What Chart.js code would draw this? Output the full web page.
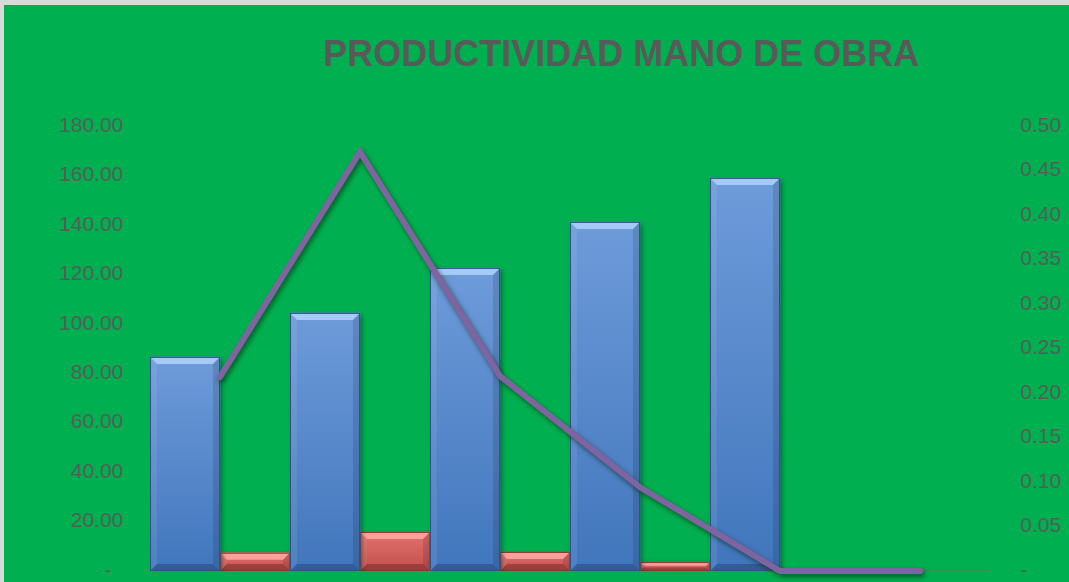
<!DOCTYPE html>
<html>
<head>
<meta charset="utf-8">
<script src="https://cdn.jsdelivr.net/npm/chart.js@4/dist/chart.umd.min.js"></script>
<style>
  html, body { margin: 0; padding: 0; background: #00B050; }
  canvas { display: block; }
</style>
</head>
<body>
<canvas id="c" width="1069" height="582"></canvas>
<script>
// ---- data ----
const categories = ['1', '2', '3', '4', '5', '6'];
const unidadesProducidas = [86.6, 104.4, 122.6, 141.2, 159.0, 0];
const horasHombre = [7.4, 15.8, 7.7, 3.6, 0, 0];
const productividad = [0.218, 0.471, 0.219, 0.094, 0, 0];
const leftTicks = { min: 0, max: 180, step: 20 };
const rightTicks = { min: 0, max: 0.5, step: 0.05 };
const titleText = 'PRODUCTIVIDAD MANO DE OBRA';

const GREEN = '#00B050';
const TEXT = '#595959';

const barStyles = {
  1: { top: '#6E9BDA', bottom: '#4176BC', hi: 'rgba(175,210,250,0.85)', lo: 'rgba(30,60,110,0.45)', border: '#2F5284' },
  2: { top: '#E4706B', bottom: '#C0504D', hi: 'rgba(255,170,165,0.85)', lo: 'rgba(110,30,30,0.45)', border: '#8B3634' }
};

const bgPlugin = {
  id: 'bg',
  beforeDraw(chart) {
    const ctx = chart.ctx;
    ctx.save();
    ctx.fillStyle = GREEN;
    ctx.fillRect(0, 0, chart.width, chart.height);
    ctx.fillStyle = '#D9D9D9';
    ctx.fillRect(0, 0, chart.width, 5);
    ctx.fillRect(0, 0, 4, chart.height);
    ctx.restore();
  },
  afterDraw(chart) {
    const ctx = chart.ctx;
    ctx.save();
    ctx.font = 'bold 36px "Liberation Sans", Arial, sans-serif';
    ctx.fillStyle = TEXT;
    ctx.textAlign = 'center';
    ctx.textBaseline = 'alphabetic';
    ctx.fillText(titleText, 621, 66);
    ctx.restore();
  }
};

const fxPlugin = {
  id: 'fx',
  beforeDatasetDraw(chart, args) {
    const ctx = chart.ctx;
    ctx.save();
    const ds = chart.data.datasets[args.index];
    if (ds.type === 'line') {
      ctx.shadowColor = 'rgba(0,40,10,0.6)';
      ctx.shadowBlur = 5;
      ctx.shadowOffsetX = 2;
      ctx.shadowOffsetY = 3;
    } else {
      ctx.shadowColor = 'rgba(0,30,10,0.55)';
      ctx.shadowBlur = 5;
      ctx.shadowOffsetX = 2;
      ctx.shadowOffsetY = 2;
    }
  },
  afterDatasetDraw(chart, args) {
    const ctx = chart.ctx;
    ctx.restore();
    const ds = chart.data.datasets[args.index];
    if (ds.type === 'line') return;
    const st = barStyles[args.index];
    if (!st) return;
    ctx.save();
    args.meta.data.forEach(el => {
      const p = el.getProps(['x', 'y', 'base', 'width'], true);
      const h = p.base - p.y;
      if (h < 0.5) return;
      const l = p.x - p.width / 2, r = p.x + p.width / 2, t = p.y, b = p.base;
      const g = ctx.createLinearGradient(0, t, 0, b);
      g.addColorStop(0, st.top);
      g.addColorStop(1, st.bottom);
      ctx.fillStyle = g;
      ctx.fillRect(l, t, p.width, h);
      const bv = Math.min(7, h / 2.5);
      ctx.fillStyle = st.hi;
      ctx.beginPath();
      ctx.moveTo(l, t); ctx.lineTo(r, t); ctx.lineTo(r - bv, t + bv); ctx.lineTo(l + bv, t + bv); ctx.closePath();
      ctx.fill();
      ctx.fillStyle = st.lo;
      ctx.beginPath();
      ctx.moveTo(l, b); ctx.lineTo(r, b); ctx.lineTo(r - bv, b - bv); ctx.lineTo(l + bv, b - bv); ctx.closePath();
      ctx.fill();
      ctx.fillStyle = 'rgba(0,0,0,0.12)';
      ctx.beginPath();
      ctx.moveTo(r, t); ctx.lineTo(r, b); ctx.lineTo(r - bv, b - bv); ctx.lineTo(r - bv, t + bv); ctx.closePath();
      ctx.fill();
      ctx.fillStyle = 'rgba(255,255,255,0.08)';
      ctx.beginPath();
      ctx.moveTo(l, t); ctx.lineTo(l, b); ctx.lineTo(l + bv, b - bv); ctx.lineTo(l + bv, t + bv); ctx.closePath();
      ctx.fill();
      ctx.strokeStyle = st.border;
      ctx.lineWidth = 1;
      ctx.strokeRect(l + 0.5, t + 0.5, p.width - 1, h - 1);
    });
    ctx.restore();
  }
};

const tickFont = { family: '"Liberation Sans", Arial, sans-serif', size: 21 };

function fitLeft(s) { s.width = 150; s.paddingTop = 0; s.paddingBottom = 0; }
function fitRight(s) { s.width = 79; s.paddingTop = 0; s.paddingBottom = 0; }

new Chart(document.getElementById('c'), {
  type: 'bar',
  data: {
    labels: categories,
    datasets: [
      {
        type: 'line',
        label: 'Productividad',
        data: productividad,
        yAxisID: 'y1',
        borderColor: '#8064A2',
        borderWidth: 6,
        borderCapStyle: 'round',
        borderJoinStyle: 'miter',
        pointRadius: 0,
        tension: 0,
        fill: false,
        clip: false,
        order: 0
      },
      {
        type: 'bar',
        label: 'Producción',
        data: unidadesProducidas,
        yAxisID: 'y',
        backgroundColor: '#4F81BD',
        categoryPercentage: 1,
        barPercentage: 1,
        order: 1
      },
      {
        type: 'bar',
        label: 'Horas hombre',
        data: horasHombre,
        yAxisID: 'y',
        backgroundColor: '#C0504D',
        categoryPercentage: 1,
        barPercentage: 1,
        order: 1
      }
    ]
  },
  options: {
    responsive: false,
    devicePixelRatio: 1,
    animation: false,
    layout: { padding: { top: 126, bottom: 11, left: 0, right: 0 } },
    plugins: { legend: { display: false }, tooltip: { enabled: false }, title: { display: false } },
    scales: {
      x: { display: false, offset: true },
      y: {
        position: 'left',
        min: leftTicks.min, max: leftTicks.max,
        grid: { display: false, drawTicks: false },
        border: { display: false },
        afterFit: fitLeft,
        ticks: {
          stepSize: leftTicks.step,
          padding: 27,
          color: TEXT,
          font: tickFont,
          callback: v => (Math.abs(v) < 1e-9 ? '-  ' : Number(v).toFixed(2))
        }
      },
      y1: {
        position: 'right',
        min: rightTicks.min, max: rightTicks.max,
        grid: { display: false, drawTicks: false },
        border: { display: false },
        afterFit: fitRight,
        ticks: {
          stepSize: rightTicks.step,
          padding: 30,
          color: TEXT,
          font: tickFont,
          callback: v => (Math.abs(v) < 1e-9 ? '-' : Number(v).toFixed(2))
        }
      }
    }
  },
  plugins: [bgPlugin, fxPlugin]
});
</script>
</body>
</html>
